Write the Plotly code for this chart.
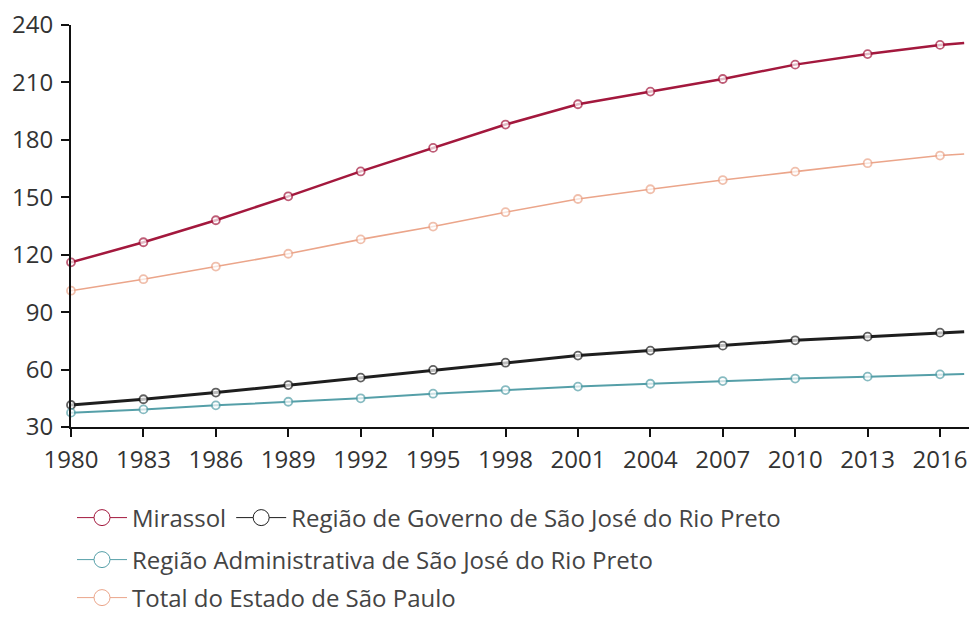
import plotly.graph_objects as go

years = [1980, 1983, 1986, 1989, 1992, 1995, 1998, 2001, 2004, 2007, 2010, 2013, 2016, 2017]
mirassol = [116, 126.5, 138, 150.5, 163.5, 175.8, 188, 198.6, 205.2, 211.8, 219.3, 224.8, 229.6, 230.6]
governo = [41.5, 44.5, 48, 51.9, 55.8, 59.8, 63.6, 67.3, 69.9, 72.5, 75.3, 77.2, 79.3, 79.8]
administrativa = [37.5, 39.2, 41.3, 43.2, 45, 47.4, 49.3, 51.1, 52.6, 54, 55.3, 56.3, 57.5, 57.7]
estado = [101.2, 107.2, 113.8, 120.5, 128, 134.7, 142.2, 149.1, 154.2, 159, 163.4, 167.8, 171.8, 172.6]
tick_years = [1980, 1983, 1986, 1989, 1992, 1995, 1998, 2001, 2004, 2007, 2010, 2013, 2016]
y_ticks = [30, 60, 90, 120, 150, 180, 210, 240]

series = [
    ("Mirassol", mirassol, "#a3183d", 2.5, "legend"),
    ("Região de Governo de São José do Rio Preto", governo, "#1e1e1e", 3, "legend"),
    ("Região Administrativa de São José do Rio Preto", administrativa, "#559fa8", 2, "legend2"),
    ("Total do Estado de São Paulo", estado, "#eba58a", 1.6, "legend3"),
]

marker_sizes = [8 if y in tick_years else 0 for y in years]

fig = go.Figure()
for name, vals, color, lw, leg in series:
    fig.add_trace(go.Scatter(
        x=years, y=vals, name=name, mode="lines+markers",
        line=dict(color=color, width=lw),
        marker=dict(symbol="circle", size=marker_sizes, color="white",
                    line=dict(color=color, width=1.8)),
        cliponaxis=False, showlegend=False,
    ))
    # legend entry (no data, larger icon as in the reference)
    fig.add_trace(go.Scatter(
        x=[None], y=[None], name=name, mode="lines+markers",
        line=dict(color=color, width=1),
        marker=dict(symbol="circle", size=16, color="white", line=dict(color=color, width=1)),
        showlegend=True, legend=leg,
    ))

W, H = 961, 605  # page body has an 8px margin on every side
font_family = "Open Sans, Noto Sans, sans-serif"
leg_common = dict(orientation="h", xref="container", yref="container",
                  xanchor="left", yanchor="middle",
                  font=dict(size=24, color="#444444", family=font_family),
                  itemwidth=50, bgcolor="rgba(0,0,0,0)", borderwidth=0)

fig.update_layout(
    width=W, height=H,
    plot_bgcolor="white", paper_bgcolor="white",
    margin=dict(l=63, r=0, t=17, b=H - 419, autoexpand=False),
    font=dict(family=font_family, size=24, color="#333333"),
    showlegend=True,
    legend=dict(x=64 / W, y=1 - 510 / H, **leg_common),
    legend2=dict(x=64 / W, y=1 - 552 / H, **leg_common),
    legend3=dict(x=64 / W, y=1 - 590 / H, **leg_common),
    xaxis=dict(range=[1980, 2017.2], tickvals=tick_years, ticktext=[str(t) for t in tick_years],
               showgrid=False, zeroline=False, showline=True, linecolor="#111111", linewidth=2,
               ticks="outside", ticklen=8, tickwidth=1.5, tickcolor="#111111",
               ticklabelstandoff=2, automargin=False, ticklabeloverflow="allow",
               tickfont=dict(size=24, color="#333333")),
    yaxis=dict(range=[30, 240], tickvals=y_ticks,
               showgrid=False, zeroline=False, showline=True, linecolor="#111111", linewidth=2,
               ticks="outside", ticklen=8, tickwidth=1.5, tickcolor="#111111",
               ticklabelstandoff=3, automargin=False, ticklabeloverflow="allow",
               tickfont=dict(size=24, color="#333333")),
)

fig.write_html("out.html")
